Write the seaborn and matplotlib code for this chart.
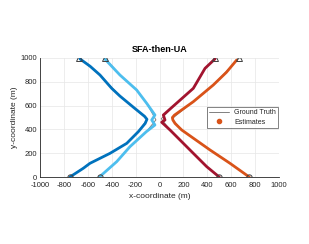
import matplotlib
matplotlib.use("Agg")
import matplotlib.pyplot as plt
from matplotlib.lines import Line2D
import numpy as np
import seaborn as sns

# estimated trajectories (x, y in metres)
db_x = [-750, -638, -582, -414, -274, -177, -120, -105, -125, -211, -331, -400, -498, -580, -665]
db_y = [0, 73, 115, 199, 283, 381, 450, 485, 510, 580, 680, 745, 857, 930, 992]

lb_x = [-503, -358, -247, -110, -38, -65, -38, -107, -191, -331, -456]
lb_y = [0, 129, 255, 381, 437, 479, 521, 619, 731, 857, 990]

dr_x = [500, 395, 283, 88, 40, 18, 46, 32, 126, 283, 381, 464]
dr_y = [0, 87, 199, 395, 440, 460, 479, 521, 605, 745, 913, 992]

or_x = [751, 590, 423, 186, 130, 112, 108, 125, 283, 450, 560, 646]
or_y = [0, 115, 227, 395, 450, 479, 500, 520, 633, 773, 880, 983]

# ground truth waypoints
gt_x = [
    [-750, -582, -414, -274, -177, -105, -211, -331, -498, -670],
    [-500, -358, -247, -110, -30, -107, -191, -331, -456],
    [500, 395, 283, 88, 15, 126, 283, 381, 465],
    [750, 590, 423, 186, 105, 283, 450, 668],
]
gt_y = [
    [0, 115, 199, 283, 381, 485, 580, 680, 857, 1000],
    [0, 129, 255, 381, 480, 619, 731, 857, 1000],
    [0, 87, 199, 395, 490, 605, 745, 913, 1000],
    [0, 115, 227, 395, 490, 633, 773, 1000],
]

est = [(db_x, db_y), (lb_x, lb_y), (dr_x, dr_y), (or_x, or_y)]
colors = ["#0072BD", "#4DBEEE", "#A2142F", "#D95319"]

sns.set_theme(style="whitegrid")
plt.rcParams["font.family"] = ["Liberation Sans", "DejaVu Sans"]
plt.rcParams["axes.unicode_minus"] = False

fig = plt.figure(figsize=(3.09, 2.44), dpi=100)
ax = fig.add_axes([40 / 309, 67 / 244, 239 / 309, 119 / 244])

for (xs, ys), gx, gy, c in zip(est, gt_x, gt_y, colors):
    sns.lineplot(x=gx, y=gy, ax=ax, color="#808080", lw=0.7, sort=False, estimator=None)
    sns.lineplot(x=xs, y=ys, ax=ax, color=c, lw=2.0, sort=False, estimator=None, zorder=3)
    ax.plot(gx[0], gy[0], "o", ms=3.8, mfc="none", mec="#404040", mew=0.7, zorder=4)
    ax.plot(gx[-1], gy[-1], "^", ms=4.3, mfc="none", mec="#404040", mew=0.7, zorder=4)

ax.set_xlim(-1000, 1000)
ax.set_ylim(0, 1000)
ax.set_xticks(np.arange(-1000, 1001, 200))
ax.set_yticks(np.arange(0, 1001, 200))
ax.set_facecolor("white")
ax.grid(True, color="#e6e6e6", lw=0.5)
for s in ["top", "right"]:
    ax.spines[s].set_visible(False)
for s in ["left", "bottom"]:
    ax.spines[s].set_color("#262626")
    ax.spines[s].set_linewidth(0.6)
ax.tick_params(axis="both", labelsize=5.5, colors="#262626", direction="in", length=2, width=0.5)
ax.tick_params(axis="x", pad=3.5)
ax.tick_params(axis="y", pad=2)
ax.set_xlabel("x-coordinate (m)", fontsize=6, color="#262626", labelpad=3)
ax.set_ylabel("y-coordinate (m)", fontsize=6, color="#262626", labelpad=2)
ax.set_title("SFA-then-UA", fontsize=6.5, fontweight="bold", color="black", pad=4)

handles = [
    Line2D([], [], color="#808080", lw=0.7),
    Line2D([], [], marker="o", ls="none", color="#D95319", ms=3),
]
leg = ax.legend(handles, ["Ground Truth", "Estimates"], loc="center right",
                bbox_to_anchor=(0.996, 0.5), fontsize=5, frameon=True, fancybox=False,
                edgecolor="#262626", handlelength=2.8, borderpad=0.3, labelspacing=0.3,
                borderaxespad=0)
leg.get_frame().set_linewidth(0.5)

fig.savefig("out.png", dpi=100, facecolor="white")
